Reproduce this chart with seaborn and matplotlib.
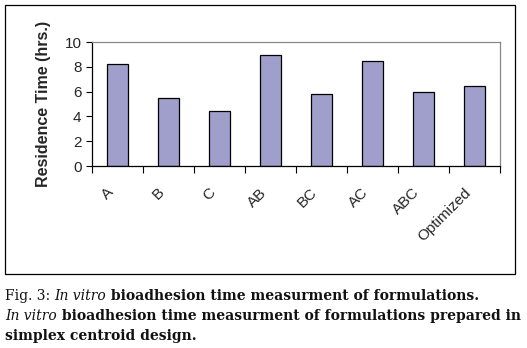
import matplotlib
matplotlib.use("Agg")
import matplotlib.pyplot as plt
import seaborn as sns
import pandas as pd
from matplotlib.patches import Rectangle

categories = ["A", "B", "C", "AB", "BC", "AC", "ABC", "Optimized"]
residence = [8.25, 5.5, 4.43, 8.97, 5.82, 8.49, 5.98, 6.47]
y_ticks = [0, 2, 4, 6, 8, 10]

sns.set_theme(style="white")
plt.rcParams['font.family'] = ['Liberation Sans', 'DejaVu Sans']

df = pd.DataFrame({"cat": categories, "val": residence})

fig = plt.figure(figsize=(5.27, 3.48), dpi=100)
W, H = 527, 348
ax = fig.add_axes([92 / W, 1 - 166 / H, (500 - 92) / W, (166 - 42) / H])
sns.barplot(data=df, x="cat", y="val", color="#a09fcb", saturation=1,
            width=0.41, edgecolor="black", linewidth=0.9, ax=ax)
ax.set_xlim(-0.5, len(categories) - 0.5)
ax.set_ylim(0, 10)
ax.set_yticks(y_ticks)
ax.set_yticklabels([str(t) for t in y_ticks], fontsize=11, family=['Liberation Sans', 'DejaVu Sans'])
ax.set_xlabel("")
ax.set_ylabel("Residence Time (hrs.)", fontsize=11.5, fontweight="bold", labelpad=10,
              family=['Liberation Sans', 'DejaVu Sans'])

# x ticks at category boundaries
ax.set_xticks([i - 0.5 for i in range(len(categories) + 1)])
ax.set_xticklabels([])
ax.tick_params(axis="x", direction="out", length=5, width=0.8, color="black", bottom=True)
ax.tick_params(axis="y", direction="out", length=4.5, width=0.8, color="black", left=True, pad=3)
for i, c in enumerate(categories):
    ax.annotate(c, xy=(i, 0), xycoords=("data", "axes fraction"),
                xytext=(-8, -14), textcoords="offset points",
                rotation=45, ha="right", va="top", rotation_mode="anchor", fontsize=11,
                family=['Liberation Sans', 'DejaVu Sans'])

ax.spines["left"].set_color("black")
ax.spines["bottom"].set_color("black")
ax.spines["top"].set_color("#888888")
ax.spines["right"].set_color("#888888")
for s in ax.spines.values():
    s.set_linewidth(0.9)

# outer frame
fig.patches.append(Rectangle((5 / W, 1 - 274 / H), (515 - 5) / W, (274 - 5) / H,
                             transform=fig.transFigure, fill=False,
                             edgecolor="black", linewidth=0.9))

# caption with mixed styles
serif = ['DejaVu Serif']
lines = [
    [("Fig. 3: ", "normal", "normal"), ("In vitro", "normal", "italic"),
     (" bioadhesion time measurment of formulations.", "bold", "normal")],
    [("In vitro", "normal", "italic"),
     (" bioadhesion time measurment of formulations prepared in", "bold", "normal")],
    [("simplex centroid design.", "bold", "normal")],
]
fig.canvas.draw()
renderer = fig.canvas.get_renderer()


def line_width(line, fs):
    total = 0
    tmp = []
    for txt, wt, st in line:
        t = fig.text(0, 0, txt, family=serif, fontweight=wt, fontstyle=st, fontsize=fs)
        total += t.get_window_extent(renderer).width
        tmp.append(t)
    for t in tmp:
        t.remove()
    return total


fs = 10.0
w = line_width(lines[1], fs)
fs = fs * 514 / w

ys = [300, 320, 340]
for line, yb in zip(lines, ys):
    x = 5
    for txt, wt, st in line:
        t = fig.text(x / W, 1 - yb / H, txt, family=serif, fontweight=wt, fontstyle=st,
                     fontsize=fs, ha="left", va="baseline", color="#111111")
        bb = t.get_window_extent(renderer)
        x += bb.width

fig.savefig("out.png", dpi=100)
